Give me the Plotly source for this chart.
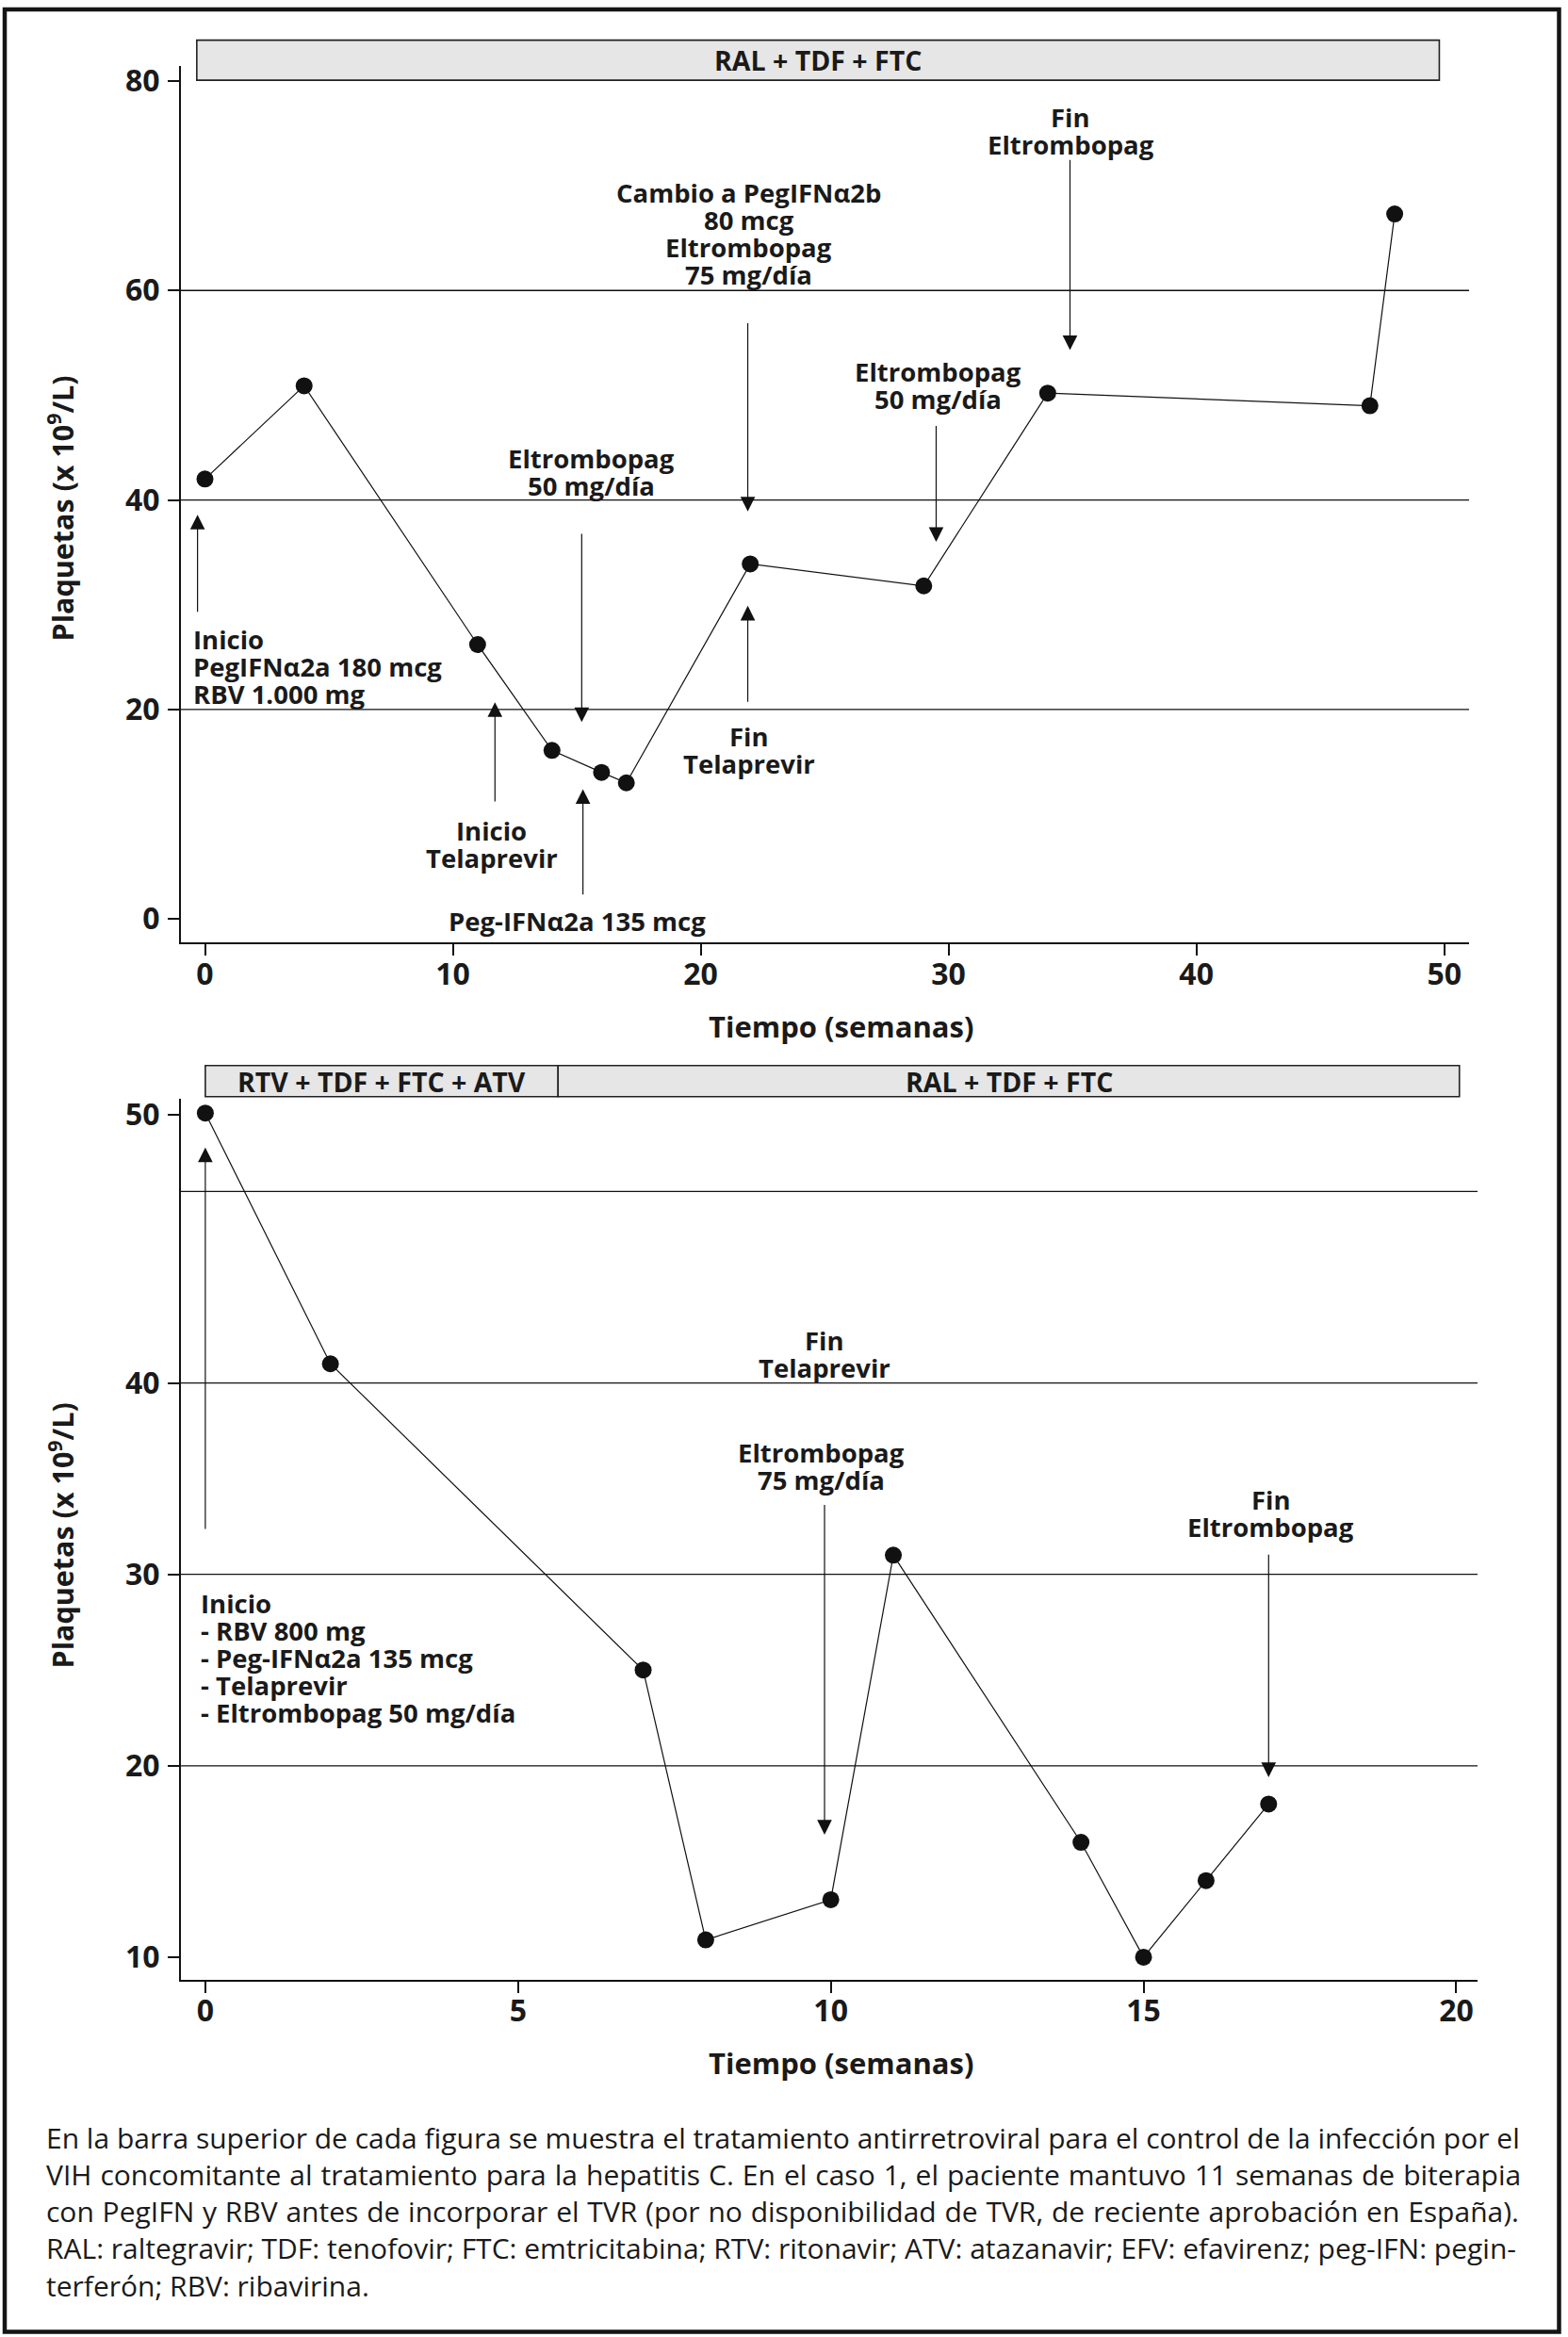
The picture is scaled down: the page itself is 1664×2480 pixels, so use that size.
import plotly.graph_objects as go

W, H = 1664, 2480

# ---------------- data ----------------
# Case 1 (top panel)
weeks_1 = [0, 4, 11, 14, 16, 17, 22, 29, 34, 47, 48]
platelets_1 = [42.0, 50.9, 26.2, 16.1, 14.0, 13.0, 33.9, 31.8, 50.2, 49.0, 67.3]
x_ticks_1 = [0, 10, 20, 30, 40, 50]
y_ticks_1 = [0, 20, 40, 60, 80]
grid_1 = [20, 40, 60]
art_1 = ["RAL + TDF + FTC"]
art_1_start = [-0.33]
art_1_end = [49.8]

# Case 2 (bottom panel)
weeks_2 = [0, 2, 7, 8, 10, 11, 14, 15, 16, 17]
platelets_2 = [54.1, 41.0, 25.0, 10.9, 13.0, 31.0, 16.0, 10.0, 14.0, 18.0]
x_ticks_2 = [0, 5, 10, 15, 20]
y_tickvals_2 = [10, 20, 30, 40, 54]
y_ticktext_2 = ["10", "20", "30", "40", "50"]
grid_2 = [20, 30, 40, 50]
art_2 = ["RTV + TDF + FTC + ATV", "RAL + TDF + FTC"]
art_2_start = [0.0, 5.64]
art_2_end = [5.64, 20.05]

# Event labels: (lines, x, y of first line, anchor)
labels_1 = [
    (["Inicio", "PegIFNα2a 180 mcg", "RBV 1.000 mg"], -0.55, 26.7, "left"),
    (["Inicio", "Telaprevir"], 11.57, 8.43, "center"),
    (["Peg-IFNα2a 135 mcg"], 15.03, -0.18, "center"),
    (["Eltrombopag", "50 mg/día"], 15.57, 44.0, "center"),
    (["Cambio a PegIFNα2b", "80 mcg", "Eltrombopag", "75 mg/día"], 21.95, 69.3, "center"),
    (["Fin", "Telaprevir"], 21.95, 17.4, "center"),
    (["Eltrombopag", "50 mg/día"], 29.56, 52.2, "center"),
    (["Fin", "Eltrombopag"], 34.92, 76.5, "center"),
]
# Arrows: (x, tail y, tip y)
arrows_1 = [
    (-0.3, 29.2, 38.6),
    (11.7, 11.1, 20.7),
    (15.25, 2.2, 12.4),
    (15.2, 36.9, 18.8),
    (21.9, 57.0, 38.9),
    (21.9, 20.6, 29.9),
    (29.5, 47.2, 36.0),
    (34.9, 72.6, 54.3),
]

labels_2 = [
    (["Inicio", "- RBV 800 mg", "- Peg-IFNα2a 135 mcg", "- Telaprevir",
      "- Eltrombopag 50 mg/día"], -0.11, 28.5, "left"),
    (["Fin", "Telaprevir"], 9.9, 42.2, "center"),
    (["Eltrombopag", "75 mg/día"], 9.84, 36.35, "center"),
    (["Fin", "Eltrombopag"], 17.04, 33.9, "center"),
]
arrows_2 = [
    (0.0, 32.3, 52.3),
    (9.9, 33.7, 16.4),
    (17.0, 31.1, 19.4),
]

caption_lines = [
    "En la barra superior de cada figura se muestra el tratamiento antirretroviral para el control de la infección por el",
    "VIH concomitante al tratamiento para la hepatitis C. En el caso 1, el paciente mantuvo 11 semanas de biterapia",
    "con PegIFN y RBV antes de incorporar el TVR (por no disponibilidad de TVR, de reciente aprobación en España).",
    "RAL: raltegravir; TDF: tenofovir; FTC: emtricitabina; RTV: ritonavir; ATV: atazanavir; EFV: efavirenz; peg-IFN: pegin-",
    "terferón; RBV: ribavirina.",
]
# extra word spacing (px) to emulate the justified paragraph
caption_word_spacing = [0, 1.2, 1.0, 0, 0]

# ---------------- styling ----------------
FONT = "Open Sans, Noto Sans, DejaVu Sans, sans-serif"
TXT = "#1a1a1a"
ANN_SIZE = 27.5
BAR_SIZE = 28.5
LINE_PX = 29


def px_x(p):
    return p / W


def px_y(p):
    return 1 - p / H


fig = go.Figure()

fig.add_trace(go.Scatter(
    x=weeks_1, y=platelets_1, mode="lines+markers",
    line=dict(color="#111111", width=1.2),
    marker=dict(color="#111111", size=18),
    xaxis="x", yaxis="y", showlegend=False, hoverinfo="skip"))
fig.add_trace(go.Scatter(
    x=weeks_2, y=platelets_2, mode="lines+markers",
    line=dict(color="#111111", width=1.2),
    marker=dict(color="#111111", size=18),
    xaxis="x2", yaxis="y2", showlegend=False, hoverinfo="skip"))

axis_common = dict(
    showline=True, linecolor="#111111", linewidth=2,
    ticks="outside", ticklen=12, tickwidth=1.5, tickcolor="#111111",
    showgrid=False, zeroline=False,
    tickfont=dict(family=FONT, size=32, color=TXT, weight="bold"),
)

fig.update_layout(
    width=W, height=H,
    margin=dict(l=0, r=0, t=0, b=0),
    paper_bgcolor="white", plot_bgcolor="white",
    showlegend=False,
    xaxis=dict(domain=[px_x(192), px_x(1559)], range=[-0.97, 51.0],
               tickvals=x_ticks_1, anchor="y", ticklabelstandoff=-8, **axis_common),
    yaxis=dict(domain=[px_y(996), px_y(63.5)], range=[-2.24, 81.4],
               tickvals=y_ticks_1, anchor="x", ticklabelstandoff=2, **axis_common),
    xaxis2=dict(domain=[px_x(192), px_x(1568)], range=[-0.39, 20.34],
                tickvals=x_ticks_2, anchor="y2", ticklabelstandoff=-8, **axis_common),
    yaxis2=dict(domain=[px_y(2100), px_y(1162)], range=[8.81, 54.86],
                tickvals=y_tickvals_2, ticktext=y_ticktext_2, anchor="x2",
                ticklabelstandoff=2, **axis_common),
)

shapes = []
annotations = []

# grid lines
for g in grid_1:
    shapes.append(dict(type="line", xref="x domain", yref="y", x0=0, x1=1, y0=g, y1=g,
                       line=dict(color="#111111", width=1.3), layer="below"))
for g in grid_2:
    shapes.append(dict(type="line", xref="x2 domain", yref="y2", x0=0, x1=1, y0=g, y1=g,
                       line=dict(color="#111111", width=1.3), layer="below"))

# treatment bars
for name, s, e in zip(art_1, art_1_start, art_1_end):
    shapes.append(dict(type="rect", xref="x", yref="paper", x0=s, x1=e,
                       y0=px_y(78.3), y1=px_y(35.7),
                       fillcolor="#e6e6e6", line=dict(color="#222222", width=1.6)))
    annotations.append(dict(xref="x", yref="paper", x=(s + e) / 2, y=px_y(57),
                            text=name, showarrow=False, xanchor="center", yanchor="middle",
                            font=dict(family=FONT, size=BAR_SIZE, color=TXT, weight="bold")))
for name, s, e in zip(art_2, art_2_start, art_2_end):
    shapes.append(dict(type="rect", xref="x2", yref="paper", x0=s, x1=e,
                       y0=px_y(1160), y1=px_y(1127),
                       fillcolor="#e6e6e6", line=dict(color="#222222", width=1.6)))
    annotations.append(dict(xref="x2", yref="paper", x=(s + e) / 2, y=px_y(1144),
                            text=name, showarrow=False, xanchor="center", yanchor="middle",
                            font=dict(family=FONT, size=BAR_SIZE, color=TXT, weight="bold")))


def add_labels(labels, xr, yr):
    for lines, x, y, anchor in labels:
        for i, line in enumerate(lines):
            annotations.append(dict(
                xref=xr, yref=yr, x=x, y=y, yshift=-i * LINE_PX,
                text=line, showarrow=False, xanchor=anchor, yanchor="middle",
                align=anchor,
                font=dict(family=FONT, size=ANN_SIZE, color=TXT, weight="bold")))


def add_arrows(arrows, xr, yr):
    for x, tail, tip in arrows:
        annotations.append(dict(
            xref=xr, yref=yr, x=x, y=tip, axref=xr, ayref=yr, ax=x, ay=tail,
            text="", showarrow=True, arrowhead=2, arrowsize=2.6, arrowwidth=1.2,
            arrowcolor="#111111", standoff=0, startstandoff=0))


add_labels(labels_1, "x", "y")
add_arrows(arrows_1, "x", "y")
add_labels(labels_2, "x2", "y2")
add_arrows(arrows_2, "x2", "y2")

# axis titles
for yc in [1085, 2188]:
    annotations.append(dict(xref="paper", yref="paper", x=px_x(892), y=px_y(yc),
                            text="Tiempo (semanas)", showarrow=False,
                            xanchor="center", yanchor="middle",
                            font=dict(family=FONT, size=31, color=TXT, weight="bold")))
for yc in [534, 1627]:
    annotations.append(dict(xref="paper", yref="paper", x=px_x(65), y=px_y(yc),
                            text="Plaquetas (x 10<sup>9</sup>/L)", showarrow=False,
                            textangle=-90, xanchor="center", yanchor="middle",
                            font=dict(family=FONT, size=30.5, color=TXT, weight="bold")))

# caption
cap_y = [2268, 2307, 2346, 2385, 2425]
for line, yc, ws in zip(caption_lines, cap_y, caption_word_spacing):
    txt = line if ws == 0 else f'<span style="word-spacing:{ws}px">{line}</span>'
    annotations.append(dict(xref="paper", yref="paper", x=px_x(47), y=px_y(yc),
                            text=txt, showarrow=False, xanchor="left", yanchor="middle",
                            font=dict(family=FONT, size=30, color=TXT)))

# outer frame
shapes.append(dict(type="rect", xref="paper", yref="paper",
                   x0=px_x(5), x1=px_x(1654.5), y0=px_y(2474.5), y1=px_y(3),
                   line=dict(color="#151515", width=4.5), fillcolor="rgba(0,0,0,0)"))

fig.update_layout(shapes=shapes, annotations=annotations)
fig.write_html("out.html",
               config={"displayModeBar": False},
               post_script="document.body.style.margin='0';document.body.style.padding='0';")
